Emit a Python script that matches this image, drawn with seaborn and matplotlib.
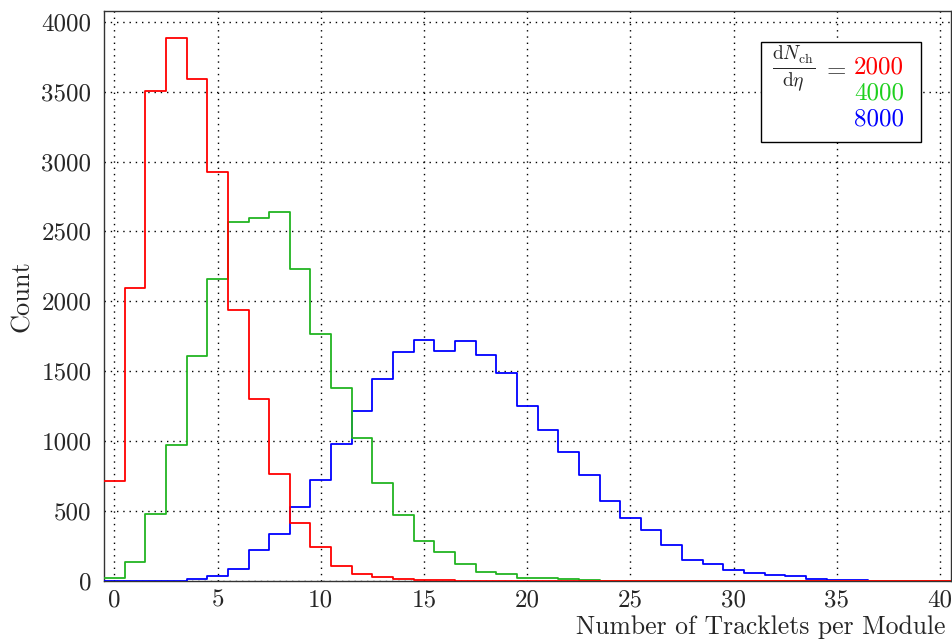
import numpy as np
import pandas as pd
import matplotlib
matplotlib.use("Agg")
import matplotlib.pyplot as plt
import seaborn as sns
from matplotlib.ticker import MultipleLocator
from matplotlib.patches import Rectangle

# ---- data (bin centres 0..40, width 1) ----
tracklets = list(range(41))
counts_2000 = [716, 2093, 3505, 3881, 3588, 2924, 1938, 1305, 764, 417,
               240, 110, 48, 26, 16, 8, 4, 2, 1, 0,
               0, 0, 0, 0, 0, 0, 0, 0, 0, 0,
               0, 0, 0, 0, 0, 0, 0, 0, 0, 0, 0]
counts_4000 = [25, 138, 476, 976, 1607, 2162, 2571, 2598, 2640, 2229,
               1767, 1383, 1026, 702, 469, 288, 209, 124, 67, 50,
               24, 24, 12, 4, 2, 1, 0, 0, 0, 0,
               0, 0, 0, 0, 0, 0, 0, 0, 0, 0, 0]
counts_8000 = [0, 0, 1, 3, 12, 36, 88, 224, 333, 531,
               724, 979, 1219, 1445, 1636, 1726, 1643, 1716, 1619, 1488,
               1252, 1081, 921, 755, 572, 452, 362, 259, 152, 119,
               76, 59, 43, 36, 17, 10, 8, 0, 0, 0, 0]
series_labels = ["2000", "4000", "8000"]
line_colors = {"2000": "#ff0000", "4000": "#22b422", "8000": "#0000ff"}
text_colors = {"2000": "#ff0000", "4000": "#1ed01e", "8000": "#0000ff"}

series = {lab: pd.DataFrame({"tracklets": tracklets, "count": c})
          for lab, c in zip(series_labels, [counts_2000, counts_4000, counts_8000])}

sns.set_style("white")
plt.rcParams["font.family"] = ["cmr10"]
plt.rcParams["mathtext.fontset"] = "cm"
plt.rcParams["axes.formatter.use_mathtext"] = False
plt.rcParams["axes.unicode_minus"] = False

W, H = 952, 642
fig = plt.figure(figsize=(W / 100, H / 100), dpi=100)
ax = fig.add_axes([104 / W, 1 - 581 / H, (950.5 - 104) / W, (581 - 10.5) / H])

edges = [float(e) for e in np.arange(-0.5, 41.5, 1.0)]
for lab in ["8000", "4000", "2000"]:
    sub = series[lab]
    sns.histplot(data=sub, x="tracklets", weights="count", bins=edges,
                 element="step", fill=False, color=line_colors[lab],
                 linewidth=1.3, ax=ax)
for ln in ax.lines:
    ln.set_zorder(3)

ax.set_xlim(-0.5, 40.5)
ax.set_ylim(0, 4080)
ax.xaxis.set_major_locator(MultipleLocator(5))
ax.xaxis.set_minor_locator(MultipleLocator(1))
ax.yaxis.set_major_locator(MultipleLocator(500))
ax.yaxis.set_minor_locator(MultipleLocator(100))
ax.grid(True, which="major", color="black", linestyle=(0, (1, 3.5)),
        linewidth=1.0, zorder=1)
ax.set_axisbelow(True)

ax.tick_params(axis="x", which="major", direction="in", length=12, width=1,
               labelsize=18, pad=6, top=False)
ax.tick_params(axis="x", which="minor", direction="in", length=6, width=1, top=False)
ax.tick_params(axis="y", which="major", direction="in", length=18, width=1,
               labelsize=18, pad=9, right=False)
ax.tick_params(axis="y", which="minor", direction="in", length=9, width=1, right=False)
for s in ax.spines.values():
    s.set_color("#333333")
    s.set_linewidth(1.0)

ax.set_xlabel("Number of Tracklets per Module", fontsize=18.5)
ax.xaxis.set_label_coords(0.994, -0.06)
ax.xaxis.label.set_horizontalalignment("right")
ax.xaxis.label.set_verticalalignment("top")
ax.set_ylabel("Count", fontsize=19)
ax.yaxis.set_label_coords(-0.083, 0.5)

# ---- legend box ----
fig.patches.append(Rectangle((760.7 / W, 1 - 142.3 / H), 160 / W, 100.6 / H,
                             transform=fig.transFigure, fill=True,
                             facecolor="white", edgecolor="black",
                             linewidth=1.0, zorder=5))
fig.text(794 / W, 1 - 69 / H, r"$\frac{\mathrm{d}N_{\mathrm{ch}}}{\mathrm{d}\eta}$",
         fontsize=20, ha="center", va="center", zorder=6)
fig.text(834 / W, 1 - 69 / H, r"$=$", fontsize=18, ha="center", va="center", zorder=6)
for lab, yb in zip(series_labels, [74, 100, 126]):
    fig.text(854 / W, 1 - yb / H, lab, fontsize=18, color=text_colors[lab],
             ha="left", va="baseline", zorder=6)

fig.savefig("out.png", dpi=100)
